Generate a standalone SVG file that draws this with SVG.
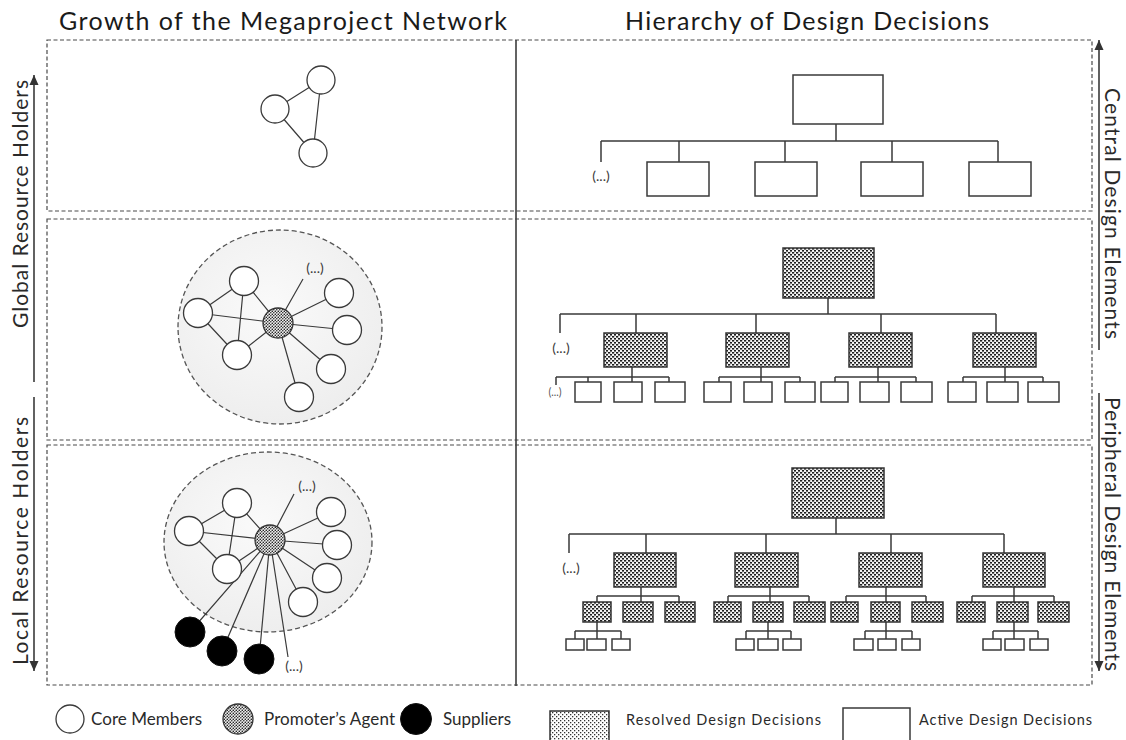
<svg xmlns="http://www.w3.org/2000/svg" width="1126" height="740" viewBox="0 0 1126 740">
  <defs>
    <style>
      .frame { fill: none; stroke: #4a4a4a; stroke-width: 1.2; stroke-dasharray: 4 2.5; }
      .divider { stroke: #3c3c3c; stroke-width: 1.6; }
      .title { font-family: Lato, "Liberation Sans", sans-serif; font-size: 25px; fill: #1a1a1a; }
      .side { font-family: Lato, "Liberation Sans", sans-serif; font-size: 21px; fill: #2a2a2a; }
      .leg { font-family: Lato, "Liberation Sans", sans-serif; font-size: 17px; fill: #2a2a2a; }
      .leg2 { font-family: Lato, "Liberation Sans", sans-serif; font-size: 14.5px; fill: #2a2a2a; }
      .more { font-family: Lato, "Liberation Sans", sans-serif; font-size: 14px; fill: #3a3a3a; text-anchor: middle; }
      .more-s { font-family: Lato, "Liberation Sans", sans-serif; font-size: 10.5px; fill: #555; text-anchor: middle; }
      .axis { stroke: #3a3a3a; stroke-width: 1.6; fill: none; }
      .link { stroke: #3a3a3a; stroke-width: 1.2; fill: none; }
      .tree { stroke: #3a3a3a; stroke-width: 1.5; fill: none; }
      .core { fill: #fff; stroke: #3a3a3a; stroke-width: 1.3; }
      .hub { fill: url(#hubDots); stroke: #333; stroke-width: 1.3; }
      .supplier { fill: #000; stroke: #111; stroke-width: 1; }
      .cloud { fill: url(#cloudFill); stroke: #555; stroke-width: 1.3; stroke-dasharray: 5 3; }
      .active { fill: #fff; stroke: #3a3a3a; stroke-width: 1.5; }
      .resolved { fill: url(#resolvedDots); stroke: #333; stroke-width: 1.5; }
    </style>
    <pattern id="resolvedDots" patternUnits="userSpaceOnUse" width="4" height="4">
      <rect width="4" height="4" fill="#f4f4f4"/>
      <rect x="0" y="0" width="2.2" height="1.6" fill="#1e1e1e"/>
      <rect x="2" y="2" width="2.2" height="1.6" fill="#1e1e1e"/>
    </pattern>
    <pattern id="hubDots" patternUnits="userSpaceOnUse" width="3" height="3">
      <rect width="3" height="3" fill="#f0f0f0"/>
      <circle cx="0.8" cy="0.8" r="0.8" fill="#222"/>
      <circle cx="2.3" cy="2.3" r="0.8" fill="#222"/>
    </pattern>
    <pattern id="legendDots" patternUnits="userSpaceOnUse" width="4" height="4">
      <rect width="4" height="4" fill="#fff"/>
      <rect x="0" y="0" width="1.3" height="1.3" fill="#333"/>
      <rect x="2" y="2" width="1.3" height="1.3" fill="#333"/>
    </pattern>
    <radialGradient id="cloudFill" cx="0.45" cy="0.4" r="0.7">
      <stop offset="0" stop-color="#fafafa"/>
      <stop offset="1" stop-color="#ececec"/>
    </radialGradient>
    <marker id="tip" markerUnits="userSpaceOnUse" markerWidth="10" markerHeight="11" refX="10" refY="5" orient="auto">
      <path d="M0,0.5 L10,5 L0,9.5 z" fill="#333"/>
    </marker>
  </defs>

  <rect width="1126" height="740" fill="#fff"/>

  <!-- column headings -->
  <text class="title" x="59" y="30" textLength="448">Growth of the Megaproject Network</text>
  <text class="title" x="625" y="30" textLength="364">Hierarchy of Design Decisions</text>

  <!-- row frames and column divider -->
  <g id="frames">
    <rect class="frame" x="47" y="40" width="1045" height="171"/>
    <rect class="frame" x="47" y="219" width="1045" height="221"/>
    <rect class="frame" x="47" y="445" width="1045" height="240"/>
    <line class="divider" x1="516" y1="40" x2="516" y2="686"/>
  </g>

  <!-- side axes -->
  <g id="axes">
    <line class="axis" x1="34" y1="382" x2="34" y2="75" marker-end="url(#tip)"/>
    <line class="axis" x1="34" y1="397" x2="34" y2="671" marker-end="url(#tip)"/>
    <line class="axis" x1="1099" y1="350" x2="1099" y2="40" marker-end="url(#tip)"/>
    <line class="axis" x1="1099" y1="393" x2="1099" y2="671" marker-end="url(#tip)"/>
    <text class="side" transform="translate(28,328) rotate(-90)" textLength="248">Global Resource Holders</text>
    <text class="side" transform="translate(28,665) rotate(-90)" textLength="248">Local Resource Holders</text>
    <text class="side" transform="translate(1105,88) rotate(90)" textLength="251">Central Design Elements</text>
    <text class="side" transform="translate(1105,397) rotate(90)" textLength="274">Peripheral Design Elements</text>
  </g>

  <!-- shaded boundaries of the growing network -->
  <g id="network-boundary-stage2">
    <ellipse class="cloud" cx="280" cy="327" rx="102" ry="97"/>
  </g>
  <g id="network-boundary-stage3">
    <ellipse class="cloud" cx="268" cy="542" rx="104" ry="90"/>
  </g>

  <!-- network connectors -->
  <g id="connectors">
    <!-- stage 1 -->
    <path class="link" d="M275,109 L321,80 M321,80 L313,153 M275,109 L313,153"/>
    <!-- stage 2 -->
    <path class="link" d="M244,281 L198,313 M244,281 L237,355 M244,281 L278,323 M198,313 L278,323 M198,313 L237,355 M237,355 L278,323
      M278,323 L303,279 M278,323 L339,293 M278,323 L347,330 M278,323 L331,369 M278,323 L299,397"/>
    <!-- stage 3 -->
    <path class="link" d="M237,503 L189,531 M237,503 L227,569 M237,503 L270,540 M189,531 L270,540 M189,531 L227,569 M227,569 L270,540
      M270,540 L294,494 M270,540 L331,512 M270,540 L337,545 M270,540 L327,578 M270,540 L303,602
      M270,540 L190,632 M270,540 L222,651 M270,540 L259,659 M270,540 L288,657"/>
  </g>

  <!-- stage 1 network -->
  <g id="network-stage1">
    <circle class="core" cx="275" cy="109" r="14"/>
    <circle class="core" cx="321" cy="80" r="14"/>
    <circle class="core" cx="313" cy="153" r="14"/>
  </g>

  <!-- stage 2 network -->
  <g id="network-stage2">
    <circle class="core" cx="244" cy="281" r="14.5"/>
    <circle class="core" cx="198" cy="313" r="14.5"/>
    <circle class="core" cx="237" cy="355" r="14.5"/>
    <circle class="core" cx="339" cy="293" r="14.5"/>
    <circle class="core" cx="347" cy="330" r="14.5"/>
    <circle class="core" cx="331" cy="369" r="14.5"/>
    <circle class="core" cx="299" cy="397" r="14.5"/>
    <circle class="hub" cx="278" cy="323" r="15"/>
    <text class="more" x="315" y="273">(...)</text>
  </g>

  <!-- stage 3 network -->
  <g id="network-stage3">
    <circle class="core" cx="237" cy="503" r="14.5"/>
    <circle class="core" cx="189" cy="531" r="14.5"/>
    <circle class="core" cx="227" cy="569" r="14.5"/>
    <circle class="core" cx="331" cy="512" r="14.5"/>
    <circle class="core" cx="337" cy="545" r="14.5"/>
    <circle class="core" cx="327" cy="578" r="14.5"/>
    <circle class="core" cx="303" cy="602" r="14.5"/>
    <circle class="hub" cx="270" cy="540" r="15"/>
    <circle class="supplier" cx="190" cy="632" r="15"/>
    <circle class="supplier" cx="222" cy="651" r="15"/>
    <circle class="supplier" cx="259" cy="659" r="15"/>
    <text class="more" x="307" y="491">(...)</text>
    <text class="more" x="294" y="671">(...)</text>
  </g>

  <!-- decision tree, stage 1 -->
  <g id="tree-stage1">
    <path class="tree" d="M836,124 V141 M601,141 H998 M601,141 V162 M679,141 V162 M785,141 V162 M892,141 V162 M998,141 V162"/>
    <rect class="active" x="793" y="75" width="90" height="49"/>
    <rect class="active" x="647" y="162" width="62" height="34"/>
    <rect class="active" x="755" y="162" width="62" height="34"/>
    <rect class="active" x="861" y="162" width="62" height="34"/>
    <rect class="active" x="969" y="162" width="62" height="34"/>
    <text class="more" x="601" y="181">(...)</text>
  </g>

  <!-- decision tree, stage 2 -->
  <g id="tree-stage2">
    <path class="tree" d="M828,298 V314 M560,314 H996 M560,314 V333 M636,314 V333 M756,314 V333 M881,314 V333 M996,314 V333
      M632,367 V377 M556,377 H669 M556,377 V385 M588,377 V382 M632,377 V382 M669,377 V382
      M761,367 V377 M719,377 H800 M719,377 V382 M761,377 V382 M800,377 V382
      M878,367 V377 M835,377 H916 M835,377 V382 M878,377 V382 M916,377 V382
      M1005,367 V377 M963,377 H1043 M963,377 V382 M1005,377 V382 M1043,377 V382"/>
    <rect class="resolved" x="783" y="248" width="91" height="50"/>
    <rect class="resolved" x="604" y="333" width="63" height="34"/>
    <rect class="resolved" x="726" y="333" width="63" height="34"/>
    <rect class="resolved" x="849" y="333" width="63" height="34"/>
    <rect class="resolved" x="973" y="333" width="63" height="34"/>
    <rect class="active" x="575" y="382" width="26" height="20"/>
    <rect class="active" x="614" y="382" width="28" height="20"/>
    <rect class="active" x="655" y="382" width="30" height="20"/>
    <rect class="active" x="704" y="382" width="27" height="20"/>
    <rect class="active" x="744" y="382" width="28" height="20"/>
    <rect class="active" x="785" y="382" width="30" height="20"/>
    <rect class="active" x="821" y="382" width="27" height="20"/>
    <rect class="active" x="860" y="382" width="29" height="20"/>
    <rect class="active" x="901" y="382" width="31" height="20"/>
    <rect class="active" x="948" y="382" width="28" height="20"/>
    <rect class="active" x="987" y="382" width="31" height="20"/>
    <rect class="active" x="1028" y="382" width="31" height="20"/>
    <text class="more" x="561" y="353">(...)</text>
    <text class="more-s" x="555" y="396">(...)</text>
  </g>

  <!-- decision tree, stage 3 -->
  <g id="tree-stage3">
    <path class="tree" d="M836,518 V534 M569,534 H1004 M569,534 V553 M646,534 V553 M766,534 V553 M891,534 V553 M1004,534 V553
      M641,587 V596 M597,596 H679 M597,596 V602 M641,596 V602 M679,596 V602
      M770,587 V596 M728,596 H809 M728,596 V602 M770,596 V602 M809,596 V602
      M886,587 V596 M846,596 H926 M846,596 V602 M886,596 V602 M926,596 V602
      M1014,587 V596 M972,596 H1054 M972,596 V602 M1014,596 V602 M1054,596 V602
      M597,622 V631 M575,631 H621 M575,631 V639 M597,631 V639 M621,631 V639
      M768,622 V631 M746,631 H791 M746,631 V639 M768,631 V639 M791,631 V639
      M886,622 V631 M865,631 H912 M865,631 V639 M886,631 V639 M912,631 V639
      M1014,622 V631 M993,631 H1038 M993,631 V639 M1014,631 V639 M1038,631 V639"/>
    <rect class="resolved" x="792" y="468" width="92" height="50"/>
    <rect class="resolved" x="614" y="553" width="62" height="34"/>
    <rect class="resolved" x="735" y="553" width="63" height="34"/>
    <rect class="resolved" x="859" y="553" width="63" height="34"/>
    <rect class="resolved" x="983" y="553" width="62" height="34"/>
    <rect class="resolved" x="583" y="602" width="28" height="20"/>
    <rect class="resolved" x="623" y="602" width="30" height="20"/>
    <rect class="resolved" x="665" y="602" width="30" height="20"/>
    <rect class="resolved" x="714" y="602" width="27" height="20"/>
    <rect class="resolved" x="753" y="602" width="30" height="20"/>
    <rect class="resolved" x="794" y="602" width="31" height="20"/>
    <rect class="resolved" x="831" y="602" width="27" height="20"/>
    <rect class="resolved" x="871" y="602" width="29" height="20"/>
    <rect class="resolved" x="912" y="602" width="31" height="20"/>
    <rect class="resolved" x="957" y="602" width="28" height="20"/>
    <rect class="resolved" x="997" y="602" width="31" height="20"/>
    <rect class="resolved" x="1038" y="602" width="31" height="20"/>
    <rect class="active" x="566" y="639" width="18" height="11"/>
    <rect class="active" x="587" y="639" width="19" height="11"/>
    <rect class="active" x="612" y="639" width="18" height="11"/>
    <rect class="active" x="736" y="639" width="18" height="11"/>
    <rect class="active" x="758" y="639" width="20" height="11"/>
    <rect class="active" x="783" y="639" width="18" height="11"/>
    <rect class="active" x="854" y="639" width="19" height="11"/>
    <rect class="active" x="878" y="639" width="18" height="11"/>
    <rect class="active" x="902" y="639" width="18" height="11"/>
    <rect class="active" x="983" y="639" width="18" height="11"/>
    <rect class="active" x="1005" y="639" width="19" height="11"/>
    <rect class="active" x="1030" y="639" width="18" height="11"/>
    <text class="more" x="571" y="573">(...)</text>
  </g>

  <!-- legend -->
  <g id="legend">
    <circle class="core" cx="70" cy="719" r="14"/>
    <text class="leg" x="91" y="725" textLength="111">Core Members</text>
    <circle class="hub" cx="238" cy="719" r="15"/>
    <text class="leg" x="264" y="725" textLength="131">Promoter’s Agent</text>
    <circle class="supplier" cx="416" cy="719" r="15.5"/>
    <text class="leg" x="443" y="725" textLength="68">Suppliers</text>
    <rect x="550" y="711" width="59" height="32" fill="url(#legendDots)" stroke="#333" stroke-width="1.5"/>
    <text class="leg2" x="626" y="725" textLength="195">Resolved Design Decisions</text>
    <rect class="active" x="843" y="708" width="67" height="35"/>
    <text class="leg2" x="919" y="725" textLength="173">Active Design Decisions</text>
  </g>
</svg>
